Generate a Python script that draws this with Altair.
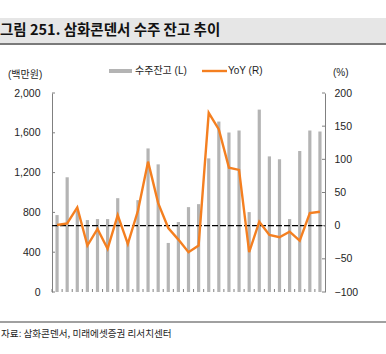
import altair as alt
import pandas as pd

quarters = ["1Q17","2Q17","3Q17","4Q17","1Q18","2Q18","3Q18","4Q18","1Q19","2Q19",
            "3Q19","4Q19","1Q20","2Q20","3Q20","4Q20","1Q21","2Q21","3Q21","4Q21",
            "1Q22","2Q22","3Q22","4Q22","1Q23","2Q23","3Q23"]
backlog = [773,1153,815,723,733,733,943,510,923,1443,1283,493,703,853,883,1343,
           1713,1603,1623,803,1833,1363,1333,733,1417,1623,1613]
yoy = [1,3.5,27.5,-30,-5,-35,16,-27.5,22.5,96.5,34,-3.5,-21,-40,-30,170,145,87.5,
       84,-40,6,-14,-17.5,-9,-22.5,19,21]
left_ticks = [0,400,800,1200,1600,2000]
right_ticks = [-100,-50,0,50,100,150,200]
x_labels = quarters[::3]

title_text = "그림 251. 삼화콘덴서 수주 잔고 추이"
source_text = "자료: 삼화콘덴서, 미래에셋증권 리서치센터"
legend_bar = "수주잔고 (L)"
legend_line = "YoY (R)"
unit_left = "(백만원)"
unit_right = "(%)"

W, H = 273, 199
FONT = "Liberation Sans, Noto Sans CJK KR"
KFONT = "Noto Sans CJK KR"
GRAY_AX = "#808080"
BAR_C = "#b4b4b4"
LINE_C = "#f47f20"
TXT = "#1e1e1e"

df = pd.DataFrame({"q": quarters, "backlog": backlog, "yoy": yoy})
xs = alt.Scale(domain=quarters, paddingInner=0, paddingOuter=0)
lscale = alt.Scale(domain=[0, 2000], nice=False, zero=True)
rscale = alt.Scale(domain=[-100, 200], nice=False, zero=False)

bars = alt.Chart(df).mark_bar(size=3.2, color=BAR_C).encode(
    x=alt.X("q:N", scale=xs, sort=quarters, title=None,
            axis=alt.Axis(values=x_labels, labelAngle=0, ticks=False, labelPadding=7,
                          domainColor=GRAY_AX, domainWidth=1, labelFontSize=10,
                          labelColor=TXT, labelFont=FONT, grid=False)),
    y=alt.Y("backlog:Q", scale=lscale, title=None,
            axis=alt.Axis(orient="left", values=left_ticks, format=",.0f", tickSize=0,
                          labelPadding=12, domainColor=GRAY_AX, domainWidth=1,
                          labelFontSize=10.5, labelColor=TXT, labelFont=FONT, grid=False)),
)

lt = pd.DataFrame({"v": left_ticks})
left_tick_rules = alt.Chart(lt).mark_rule(color=GRAY_AX, strokeWidth=1).encode(
    y=alt.Y("v:Q", scale=lscale, axis=None), x=alt.value(0), x2=alt.value(3))

rt = pd.DataFrame({"v": right_ticks})
right_tick_rules = alt.Chart(rt).mark_rule(color=GRAY_AX, strokeWidth=1).encode(
    y=alt.Y("v:Q", scale=rscale, axis=None), x=alt.value(W - 3), x2=alt.value(W))

x_tick_rules = alt.Chart(df).mark_rule(color=GRAY_AX, strokeWidth=1).encode(
    x=alt.X("q:N", scale=xs, sort=quarters, bandPosition=0, axis=None),
    y=alt.value(H - 3), y2=alt.value(H))

zero_rule = alt.Chart(pd.DataFrame({"z": [0]})).mark_rule(
    color="black", strokeWidth=1.3, strokeDash=[6, 2]).encode(
    y=alt.Y("z:Q", scale=rscale, axis=None), x=alt.value(0), x2=alt.value(W))

line = alt.Chart(df).mark_line(color=LINE_C, strokeWidth=2.4).encode(
    x=alt.X("q:N", scale=xs, sort=quarters),
    y=alt.Y("yoy:Q", scale=rscale, title=None,
            axis=alt.Axis(orient="right", values=right_ticks, tickSize=0, labelPadding=9,
                          domainColor=GRAY_AX, domainWidth=1, labelFontSize=10.5,
                          labelColor=TXT, labelFont=FONT, grid=False)),
)

one = pd.DataFrame({"a": [1]})
title_bg = alt.Chart(one).mark_rect(color="#e6e6e6").encode(
    x=alt.value(-52), x2=alt.value(334), y=alt.value(-75), y2=alt.value(-50))
title_line = alt.Chart(one).mark_rule(color="#7a7a7a", strokeWidth=2).encode(
    x=alt.value(-52), x2=alt.value(334), y=alt.value(-49))
title = alt.Chart(pd.DataFrame({"t": [title_text]})).mark_text(
    align="left", baseline="middle", font=KFONT, fontSize=14.5, fontWeight="bold",
    color="#111").encode(text="t:N", x=alt.value(-52), y=alt.value(-62))

src_line = alt.Chart(one).mark_rule(color=GRAY_AX, strokeWidth=1.5).encode(
    x=alt.value(-52), x2=alt.value(334), y=alt.value(229))
src = alt.Chart(pd.DataFrame({"t": [source_text]})).mark_text(
    align="left", baseline="middle", font=KFONT, fontSize=9.6, color=TXT).encode(
    text="t:N", x=alt.value(-51), y=alt.value(241))

leg_rect = alt.Chart(one).mark_rect(color=BAR_C).encode(
    x=alt.value(57), x2=alt.value(80), y=alt.value(-24), y2=alt.value(-20))
leg_t1 = alt.Chart(pd.DataFrame({"t": [legend_bar]})).mark_text(
    align="left", baseline="middle", font=FONT, fontSize=10, color=TXT).encode(
    text="t:N", x=alt.value(83), y=alt.value(-22))
leg_line = alt.Chart(one).mark_rule(color=LINE_C, strokeWidth=2.4).encode(
    x=alt.value(150), x2=alt.value(175), y=alt.value(-22))
leg_t2 = alt.Chart(pd.DataFrame({"t": [legend_line]})).mark_text(
    align="left", baseline="middle", font=FONT, fontSize=10, color=TXT).encode(
    text="t:N", x=alt.value(176), y=alt.value(-22))

u_left = alt.Chart(pd.DataFrame({"t": [unit_left]})).mark_text(
    align="left", baseline="middle", font=FONT, fontSize=10, color=TXT).encode(
    text="t:N", x=alt.value(-44), y=alt.value(-18))
u_right = alt.Chart(pd.DataFrame({"t": [unit_right]})).mark_text(
    align="left", baseline="middle", font=FONT, fontSize=10, color=TXT).encode(
    text="t:N", x=alt.value(281), y=alt.value(-20))

chart = alt.layer(
    title_bg, title_line, title, bars, left_tick_rules, zero_rule, line,
    right_tick_rules, x_tick_rules, leg_rect, leg_t1, leg_line, leg_t2,
    u_left, u_right, src_line, src
).resolve_scale(y="independent").properties(
    width=W, height=H,
    autosize=alt.AutoSizeParams(type="none"),
    padding={"left": 52, "top": 93, "right": 61, "bottom": 62},
    background="white",
).configure_view(stroke=None)

chart.save("out.html", embed_options={"renderer": "svg", "actions": False})
